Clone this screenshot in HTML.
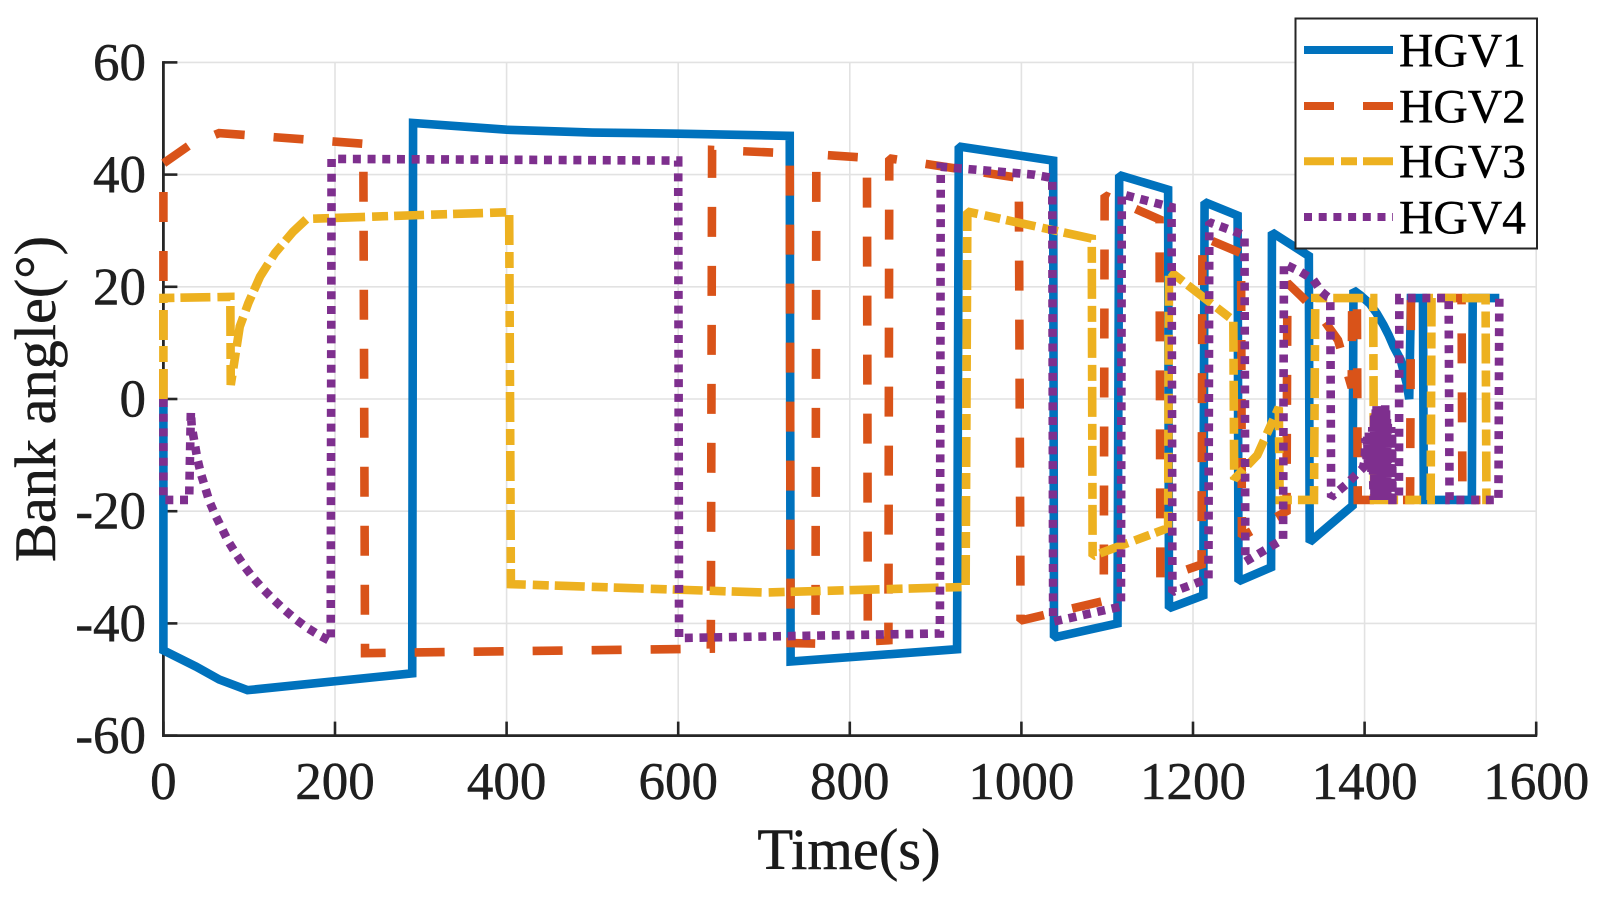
<!DOCTYPE html>
<html lang="en">
<head>
<meta charset="utf-8">
<title>Bank angle vs Time</title>
<style>
html,body{margin:0;padding:0;background:#fff;width:1604px;height:898px;overflow:hidden}
svg{display:block;font-family:"Liberation Serif","Times New Roman",serif}
</style>
</head>
<body>
<svg id="chart" width="1604" height="898" viewBox="0 0 1604 898" xmlns="http://www.w3.org/2000/svg">
  <rect x="0" y="0" width="1604" height="898" fill="#fff"/>
  <g id="grid"></g>
  <g id="axes"></g>
  <g id="series"></g>
  <text x="849" y="869" font-size="58.5" fill="#1a1a1a" stroke="#1a1a1a" stroke-width="0.5" text-anchor="middle">Time(s)</text>
  <text transform="translate(55,399) rotate(-90)" font-size="58.3" fill="#1a1a1a" stroke="#1a1a1a" stroke-width="0.5" text-anchor="middle">Bank angle(°)</text>
  <g>
    <rect x="1295.5" y="18.5" width="241.5" height="230" fill="#fff" stroke="#262626" stroke-width="2"/>
    <g>
      <line x1="1304" y1="50" x2="1393" y2="50" stroke="#0072BD" stroke-width="8"/>
      <text x="1399" y="66.5" font-size="47.6" fill="#000" stroke="#000" stroke-width="0.4">HGV1</text>
    </g>
    <g>
      <line x1="1304" y1="106" x2="1393" y2="106" stroke="#D95319" stroke-width="8" stroke-dasharray="30 29"/>
      <text x="1399" y="122.3" font-size="47.6" fill="#000" stroke="#000" stroke-width="0.4">HGV2</text>
    </g>
    <g>
      <line x1="1304" y1="161.3" x2="1393" y2="161.3" stroke="#EDB120" stroke-width="8" stroke-dasharray="30 7 16 6"/>
      <text x="1399" y="177.7" font-size="47.6" fill="#000" stroke="#000" stroke-width="0.4">HGV3</text>
    </g>
    <g>
      <line x1="1304" y1="217" x2="1393" y2="217" stroke="#7E2F8E" stroke-width="8" stroke-dasharray="8 6.7"/>
      <text x="1399" y="233.3" font-size="47.6" fill="#000" stroke="#000" stroke-width="0.4">HGV4</text>
    </g>
  </g>
</svg>
<script>
const xTickValues = [0, 200, 400, 600, 800, 1000, 1200, 1400, 1600];
const yTickValues = [60, 40, 20, 0, -20, -40, -60];

const timeHgv1 = [0, 0, 38, 65, 98, 290, 291, 400, 500, 600, 730, 731, 925, 927, 1037, 1038, 1112, 1114, 1171, 1172, 1212, 1213.5, 1252, 1253, 1291, 1292, 1335, 1336, 1386, 1387, 1395, 1406, 1414, 1422, 1428, 1434, 1442, 1449, 1452, 1454, 1468, 1469, 1525, 1526, 1557];
const angleHgv1 = [0, -44.8, -47.7, -50, -51.9, -48.9, 49.2, 48, 47.5, 47.3, 46.9, -46.8, -44.6, 45, 42.5, -42.5, -40, 39.9, 37.3, -37.3, -35, 35.1, 32.7, -32.5, -30, 29.7, 25.5, -25.5, -19, 19.4, 18.5, 17, 15.3, 13.2, 11.4, 9.3, 7, 2.8, 0, 18, 18, -18, -18, 18, 18];

const timeHgv2 = [0, 0, 30, 65, 233, 235, 638, 639.5, 730, 731, 760, 761, 820, 821, 845, 846, 997, 999, 1096, 1097, 1161, 1162, 1210, 1211, 1256, 1257, 1309, 1310, 1325, 1348, 1369, 1385, 1385.5, 1391, 1392, 1453, 1454, 1513, 1514, 1535];
const angleHgv2 = [0, 42, 45.2, 47.4, 45.5, -45.3, -44.5, 44.4, 43.8, -43.5, -43.6, 43.6, 43, -43.2, -43, 42.9, 39.4, -39.5, -36, 36.3, 32, -32, -29.5, 28.9, 26, -24.5, -20, 20.7, 18.5, 15, 10.5, 2, 18, 18, -18, -18, 18, 18, -18, -18];

const timeHgv3 = [0, 0, 78, 78.5, 89, 99, 112.6, 130, 151, 167, 300, 403, 405, 700, 935, 937, 1082, 1083, 1171, 1172, 1247, 1248, 1275, 1300, 1301, 1341, 1342.5, 1410, 1411, 1477, 1478, 1541, 1542, 1550];
const angleHgv3 = [0, 18, 18.2, 2.5, 12.9, 17.1, 21.8, 26, 29.8, 32.1, 32.8, 33.3, -33, -34.5, -33.5, 33.4, 28.6, -28, -23, 22.9, 14, -14.3, -10, -1.5, -18, -18, 18, 18, -18, -18, 18, 18, -18, -18];

const timeHgv4 = [
  0, 0, 30, 32, 33, 39.5, 43.5, 48.5, 53.5, 60.5,
  68, 75.7, 84.6, 94.3, 104.8, 116.4, 128, 140.6, 153.7, 167.7,
  182.5, 195, 196, 600, 601, 905, 906, 1014, 1036, 1037,
  1116, 1117, 1175, 1176, 1218, 1219, 1260, 1261, 1305, 1306,
  1325, 1340, 1350, 1357, 1360, 1361, 1378, 1390, 1398, 1400,
  1401, 1402, 1403, 1404, 1405, 1406, 1407, 1408, 1409, 1410,
  1410.5, 1411, 1411.5, 1412, 1412.5, 1413, 1413.5, 1414, 1414.5, 1415,
  1415.5, 1416, 1416.5, 1417, 1417.5, 1418, 1418.5, 1419, 1419.5, 1420,
  1420.5, 1421, 1421.5, 1422, 1422.5, 1423, 1423.5, 1424, 1424.5, 1425,
  1425.5, 1426, 1426.5, 1427, 1427.5, 1428, 1428.5, 1429, 1429.5, 1430,
  1430.5, 1431, 1431.5, 1432, 1432.5, 1440, 1440.5, 1498, 1499, 1556,
  1557
];
const angleHgv4 = [
  0, -18, -18, -2.3, -4.9, -10.6, -13.2, -15.7, -18.2, -20.7,
  -23, -25.4, -27.6, -29.8, -31.9, -33.9, -35.7, -37.5, -39.2, -40.8,
  -42.2, -43.2, 42.8, 42.5, -42.6, -41.8, 41.4, 40, 39.4, -39.7,
  -37, 36.5, 34.2, -34.4, -32, 31.5, 29.2, -29, -25, 24.1,
  22.7, 21.3, 19.1, 18.2, 18, -17.5, -15.3, -13.5, -12.3, -11,
  -7, -12.5, -6.5, -12, -6, -12.5, -6.5, -13, -5, -14,
  -18, -3, -18, -2.5, -18, -1.5, -18, -1, -18, -1.5,
  -18, -2, -18, -3, -18, -4, -18, -4, -18, -3.5,
  -18, -3, -18, -1.5, -18, -1.5, -18, -1, -18, -1.5,
  -18, -3, -18, -4, -18, -5, -18, -6, -18, -5,
  -18, -5, -18, -6, -18, -18, 18, 18, -18, -18,
  18
];

const plotLeft = 163.4;
const plotBottom = 735.6;
const plotTop = 62.4;
const plotRight = 1536.2;
const xMin = 0;
const xMax = 1600;
const yMin = -60;
const yMax = 60;

function xScale(t) {
  return plotLeft + (t - xMin) / (xMax - xMin) * (plotRight - plotLeft);
}
function yScale(v) {
  return plotBottom - (v - yMin) / (yMax - yMin) * (plotBottom - plotTop);
}

const SVG_NS = 'http://www.w3.org/2000/svg';
const gridGroup = document.getElementById('grid');
const axesGroup = document.getElementById('axes');
const seriesGroup = document.getElementById('series');

function makeLine(x1, y1, x2, y2, color, width) {
  const el = document.createElementNS(SVG_NS, 'line');
  el.setAttribute('x1', x1);
  el.setAttribute('y1', y1);
  el.setAttribute('x2', x2);
  el.setAttribute('y2', y2);
  el.setAttribute('stroke', color);
  el.setAttribute('stroke-width', width);
  return el;
}

const gridColor = '#e2e2e2';
const axisColor = '#262626';
const tickLength = 14;

xTickValues.forEach(function (t) {
  const g = makeLine(xScale(t), plotTop, xScale(t), plotBottom, gridColor, 1.6);
  
  
  gridGroup.appendChild(g);
});
yTickValues.forEach(function (v) {
  const g = makeLine(plotLeft, yScale(v), plotRight, yScale(v), gridColor, 1.6);
  
  
  gridGroup.appendChild(g);
});

const xAxisLine = makeLine(plotLeft - 1.3, plotBottom, plotRight + 1, plotBottom, axisColor, 2.8);


axesGroup.appendChild(xAxisLine);

const yAxisLine = makeLine(plotLeft, plotTop - 1.3, plotLeft, plotBottom + 1, axisColor, 2.8);


axesGroup.appendChild(yAxisLine);

xTickValues.forEach(function (t) {
  const tick = makeLine(xScale(t), plotBottom, xScale(t), plotBottom - tickLength, axisColor, 2.6);
  
  
  axesGroup.appendChild(tick);
  const label = document.createElementNS(SVG_NS, 'text');
  
  
  label.setAttribute('x', xScale(t));
  label.setAttribute('y', 799);
  label.setAttribute('font-size', 53);
  label.setAttribute('fill', '#1f1f1f');
  label.setAttribute('stroke', '#1f1f1f');
  label.setAttribute('stroke-width', 0.5);
  label.setAttribute('text-anchor', 'middle');
  label.textContent = String(t);
  axesGroup.appendChild(label);
});
yTickValues.forEach(function (v) {
  const tick = makeLine(plotLeft, yScale(v), plotLeft + tickLength, yScale(v), axisColor, 2.6);
  
  
  axesGroup.appendChild(tick);
  const label = document.createElementNS(SVG_NS, 'text');
  
  
  label.setAttribute('x', 146);
  label.setAttribute('y', yScale(v) + 17.5);
  label.setAttribute('font-size', 53);
  label.setAttribute('fill', '#1f1f1f');
  label.setAttribute('stroke', '#1f1f1f');
  label.setAttribute('stroke-width', 0.5);
  label.setAttribute('text-anchor', 'end');
  label.textContent = String(v);
  axesGroup.appendChild(label);
});

function drawSeries(times, angles, color, dash, name) {
  const path = document.createElementNS(SVG_NS, 'path');
  let d = '';
  times.forEach(function (t, i) {
    d += (i === 0 ? 'M' : 'L') + xScale(t).toFixed(2) + ' ' + yScale(angles[i]).toFixed(2);
  });
  path.setAttribute('d', d);
  path.setAttribute('fill', 'none');
  path.setAttribute('stroke', color);
  path.setAttribute('stroke-width', 8.6);
  path.setAttribute('stroke-linejoin', 'miter');
  path.setAttribute('stroke-miterlimit', 1.5);
  path.setAttribute('stroke-linecap', 'butt');
  if (dash) {
    path.setAttribute('stroke-dasharray', dash);
  }
  
  
  seriesGroup.appendChild(path);
}

drawSeries(timeHgv1, angleHgv1, '#0072BD', '', 'series-hgv1');
drawSeries(timeHgv2, angleHgv2, '#D95319', '30 29', 'series-hgv2');
drawSeries(timeHgv3, angleHgv3, '#EDB120', '30 7 16 6', 'series-hgv3');
drawSeries(timeHgv4, angleHgv4, '#7E2F8E', '8 6.7', 'series-hgv4');
</script>
</body>
</html>
